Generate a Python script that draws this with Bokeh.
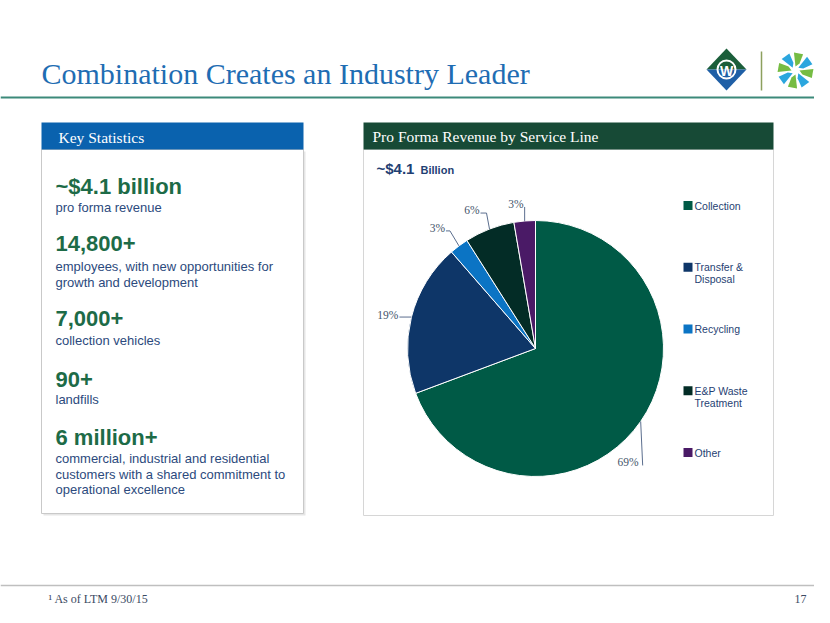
import numpy as np
from bokeh.plotting import figure
from bokeh.models import Range1d, ColumnDataSource
from bokeh.core.properties import value
from bokeh.embed import file_html
from bokeh.resources import INLINE

# ---------------- data ----------------
title_text = "Combination Creates an Industry Leader"
left_header = "Key Statistics"
right_header = "Pro Forma Revenue by Service Line"
total_big = "~$4.1"
total_small = "Billion"

stat_values = ["~$4.1 billion", "14,800+", "7,000+", "90+", "6 million+"]
stat_descs = [
    ["pro forma revenue"],
    ["employees, with new opportunities for", "growth and development"],
    ["collection vehicles"],
    ["landfills"],
    ["commercial, industrial and residential",
     "customers with a shared commitment to",
     "operational excellence"],
]

service_lines = ["Collection", "Transfer & Disposal", "Recycling",
                 "E&P Waste Treatment", "Other"]
legend_lines = [["Collection"], ["Transfer &", "Disposal"], ["Recycling"],
                ["E&P Waste", "Treatment"], ["Other"]]
revenue_share = [69.3, 19.3, 2.4, 6.3, 2.7]
share_labels = ["69%", "19%", "3%", "6%", "3%"]
slice_colors = ["#005A46", "#0E3668", "#0B74C4", "#032C26", "#4A1A66"]

footnote = "\u00b9 As of LTM 9/30/15"
page_number = "17"

# ---------------- figure ----------------
W, H = 814, 607
p = figure(width=W, height=H, output_backend="svg", toolbar_location=None,
           x_range=Range1d(0, W), y_range=Range1d(-H, 0),
           x_axis_type=None, y_axis_type=None, min_border=0,
           background_fill_color="white", border_fill_color="white",
           outline_line_color=None)
p.grid.visible = False

SERIF = value("Liberation Serif")
SANS = value("Liberation Sans")


def Y(v):
    return -np.asarray(v, dtype=float)


def txt(x, y, s, size, color, font=SANS, style="normal", align="left",
        baseline="middle"):
    p.text(x=[x], y=[-y], text=[s], text_font=font, text_font_size=size,
           text_color=color, text_font_style=style, text_align=align,
           text_baseline=baseline)


# ---------------- title ----------------
txt(41, 73, title_text, "30px", "#1F6DB3", font=SERIF)
p.line(x=[0, W], y=Y([97, 97]), line_color="#3C8A7A", line_width=2)

# logo: diamond
lc = (726, 69)
p.patch(x=[lc[0] - 20, lc[0], lc[0] + 20], y=Y([lc[1], lc[1] - 21, lc[1]]),
        fill_color="#1B5E3A", line_color=None)
p.patch(x=[lc[0] - 20, lc[0], lc[0] + 20], y=Y([lc[1], lc[1] + 21, lc[1]]),
        fill_color="#1F5FA6", line_color=None)
p.scatter(x=[lc[0]], y=Y([lc[1]]), size=18, marker="circle",
          fill_color=None, line_color="white", line_width=2)
txt(lc[0], lc[1] + 1, "W", "14px", "white", style="bold", align="center")
p.line(x=[761, 761], y=Y([51, 90]), line_color="#8DA05E", line_width=1.5)
# logo: pinwheel
pc = (795, 70)
for k in range(8):
    a = np.deg2rad(90 - k * 45)
    angs = [a + np.deg2rad(d) for d in (0, 5, -25, -30)]
    rads = [4, 18, 18, 8]
    xs = [pc[0] + r * np.cos(t) for r, t in zip(rads, angs)]
    ys = [-(pc[1] - r * np.sin(t)) for r, t in zip(rads, angs)]
    p.patch(x=xs, y=ys, fill_color="#76BC43" if k % 2 == 0 else "#2BA6DE",
            line_color=None)

# ---------------- left panel ----------------
p.quad(left=[43], right=[305], top=Y([151]), bottom=Y([515]),
       fill_color="#E6E6E6", line_color=None)
p.quad(left=[41], right=[303], top=Y([149]), bottom=Y([513]),
       fill_color="white", line_color="#C9C9C9", line_width=1)
p.quad(left=[41], right=[303], top=Y([122]), bottom=Y([149]),
       fill_color="#0A62AE", line_color=None)
txt(58, 137, left_header, "15.5px", "white", font=SERIF)

head_y = [186, 243, 318, 379, 437]
desc_y = [207, 266, 340, 399, 458]
for v, ds, hy, dy in zip(stat_values, stat_descs, head_y, desc_y):
    txt(55, hy, v, "22px", "#1D6B47", style="bold")
    for j, d in enumerate(ds):
        txt(55, dy + j * 15.5, d, "13px", "#2C4A7D")

# ---------------- right panel ----------------
p.quad(left=[363], right=[773], top=Y([149]), bottom=Y([515]),
       fill_color="white", line_color="#D6D6D6", line_width=1)
p.quad(left=[363], right=[773], top=Y([122]), bottom=Y([149]),
       fill_color="#174A36", line_color=None)
txt(372, 136, right_header, "15.5px", "white", font=SERIF)
txt(376, 168, total_big, "15px", "#1F3F73", style="bold")
txt(420, 169, total_small, "11px", "#1F3F73", style="bold")

# pie
cx, cy, R = 535, 348, 128
frac = np.array(revenue_share) / np.sum(revenue_share)
cum = np.concatenate([[0], np.cumsum(frac)])
start = np.pi / 2 - 2 * np.pi * cum[1:]
end = np.pi / 2 - 2 * np.pi * cum[:-1]
src = ColumnDataSource(dict(start=start, end=end, color=slice_colors,
                            name=service_lines))
p.wedge(x=cx, y=-cy, radius=R, start_angle="start", end_angle="end",
        direction="anticlock", fill_color="color", line_color="white",
        line_width=1, source=src)

# labels with leader lines (offsets relative to the slice's mid-edge point)
mid = (cum[:-1] + cum[1:]) / 2
ex = cx + R * np.sin(2 * np.pi * mid)
ey = cy - R * np.cos(2 * np.pi * mid)
leader_offsets = [
    [(0, 0), (2, 44)],
    [(0, 0), (-12, 0)],
    [(0, 0), (-9, -15), (-13, -15)],
    [(0, 0), (-3, -16), (-9, -16)],
    [(0, 0), (0, -14)],
]
label_offsets = [(-2, 41), (-13, -2), (-14, -18), (-10, -19), (-1, -17)]
label_color = "#44546A"
for i in range(len(revenue_share)):
    lx = [ex[i] + o[0] for o in leader_offsets[i]]
    ly = [-(ey[i] + o[1]) for o in leader_offsets[i]]
    p.line(x=lx, y=ly, line_color="#5B6E8E", line_width=1)
    txt(ex[i] + label_offsets[i][0], ey[i] + label_offsets[i][1],
        share_labels[i], "11.5px", label_color, font=SERIF, align="right")

# legend
leg_y0, leg_dy = 205, 61.75
for i, lines in enumerate(legend_lines):
    yy = leg_y0 + i * leg_dy
    p.scatter(x=[687.5], y=[-yy], marker="square", size=9,
              fill_color=slice_colors[i], line_color=None)
    for j, s in enumerate(lines):
        txt(694, yy + j * 12, s, "10.5px", "#1F3F73")

# ---------------- footer ----------------
p.line(x=[0, W], y=Y([585, 585]), line_color="#BFBFBF", line_width=1.5)
txt(48, 598, footnote, "12px", "#3B4A63", font=SERIF)
txt(806, 598, page_number, "12px", "#3B4A63", font=SERIF, align="right")

open("out.html", "w").write(file_html(p, INLINE))
